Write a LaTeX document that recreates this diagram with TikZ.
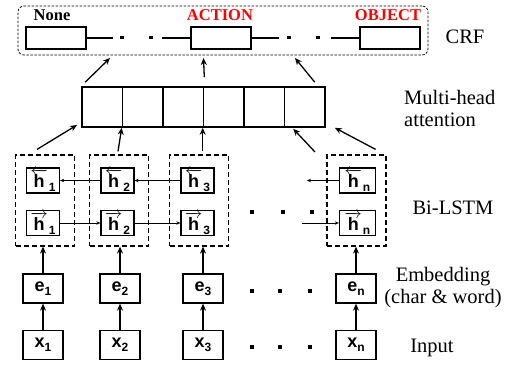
\documentclass[tikz,border=0pt]{standalone}
\usepackage{fontspec}
\setmainfont{Liberation Serif}
\setsansfont{Liberation Sans}
\usetikzlibrary{arrows.meta,calc}
\newcommand{\tokx}[2]{#1\raisebox{-4pt}{\fontsize{12}{12}\selectfont #2}}
\newcommand{\hbw}[1]{$\overleftarrow{\mbox{h}}$\kern1pt\raisebox{-4pt}{\fontsize{12}{12}\selectfont #1}}
\newcommand{\hfw}[1]{$\overrightarrow{\mbox{h}}$\kern1pt\raisebox{-4pt}{\fontsize{12}{12}\selectfont #1}}
\begin{document}
\begin{tikzpicture}[x=1pt,y=-1pt,
 box/.style={draw,line width=1.3pt,inner sep=0pt,font=\sffamily\bfseries\fontsize{18}{18}\selectfont},
 tok/.style={box,minimum width=40pt,minimum height=29pt},
 hcell/.style={box,minimum width=33pt,minimum height=25pt},
 lstm/.style={draw,dash pattern=on 5pt off 3pt,line width=1.2pt,minimum width=59pt,minimum height=91pt,inner sep=0pt},
 att/.style={draw,line width=1.6pt,minimum width=40.5pt,minimum height=40pt,inner sep=0pt},
 crfbox/.style={draw,line width=1.3pt,minimum width=60pt,minimum height=22pt,inner sep=0pt},
 tag/.style={font=\rmfamily\bfseries\fontsize{16.5}{16.5}\selectfont,inner sep=0pt},
 lab/.style={font=\rmfamily\fontsize{20.5}{22}\selectfont,align=center,inner sep=0pt},
 arr/.style={-{Stealth[length=7pt,width=6pt]},line width=1.3pt},
 tarr/.style={-{Stealth[length=4pt,width=3.5pt]},line width=0.7pt},
 chain/.style={line width=1.3pt},
 dotsq/.style={fill,minimum size=3.2pt,inner sep=0pt}
]
\useasboundingbox (0,0) rectangle (524,371);
% CRF
\node[draw,dash pattern=on 2.5pt off 1.5pt,rounded corners=6pt,line width=0.7pt,minimum width=410pt,minimum height=49pt,inner sep=0pt] (crf) at (223,30.5) {};
\node[crfbox] (cN) at (56,38) {};
\node[crfbox] (cA) at (221,38) {};
\node[crfbox] (cO) at (390,38) {};
\node[tag] (tN) at (52,15) {None};
\node[tag,text=red] (tA) at (220,15) {ACTION};
\node[tag,text=red] (tO) at (388,15) {OBJECT};
\coordinate (k1) at (113,38); \coordinate (k2) at (162,38);
\coordinate (k3) at (279,38); \coordinate (k4) at (331,38);
\draw[chain] (cN.east) -- (k1);
\draw[chain] (k2) -- (cA.west);
\draw[chain] (cA.east) -- (k3);
\draw[chain] (k4) -- (cO.west);
\node[dotsq] (d1) at (122,37.5) {};
\node[dotsq] (d2) at (151,37.5) {};
\node[dotsq] (d3) at (289,37.5) {};
\node[dotsq] (d4) at (318,37.5) {};
% attention
\foreach \i in {1,...,6} \node[att] (a\i) at ({82+40.5*(\i-0.5)},107) {};
\coordinate (u1) at (110,58);
\coordinate (u2) at (203.5,58);
\coordinate (u3) at (295,58);
\draw[arr] ([shift={(4,-4)}]a1.north west) -- (u1);
\draw[arr] ([shift={(0,-9)}]a3.north east) -- (u2);
\draw[arr] ([shift={(10,-4)}]a6.north) -- (u3);
% LSTM
\node[lstm] (l1) at (45,200.5) {};
\node[lstm] (l2) at (119,200.5) {};
\node[lstm] (l3) at (199,200.5) {};
\node[lstm] (ln) at (356.5,200.5) {};
\node[hcell] (hb1) at (43,180.5) {\hbw{1}};
\node[hcell] (hb2) at (117.5,180.5) {\hbw{2}};
\node[hcell] (hb3) at (197.5,180.5) {\hbw{3}};
\node[hcell,minimum width=36pt] (hbn) at (357.5,180.5) {\hbw{n}};
\node[hcell] (hf1) at (43,223) {\hfw{1}};
\node[hcell] (hf2) at (117.5,223) {\hfw{2}};
\node[hcell] (hf3) at (197.5,223) {\hfw{3}};
\node[hcell,minimum width=36pt] (hfn) at (357.5,223) {\hfw{n}};
\draw[tarr] (hb3.west) -- (hb2.east);
\draw[tarr] (hb2.west) -- (hb1.east);
\coordinate (f1) at (307,180.5);
\draw[tarr] (hbn.west) -- (f1);
\draw[tarr] (hf1.east) -- (hf2.west);
\draw[tarr] (hf2.east) -- (hf3.west);
\coordinate (f2) at (302,223);
\draw[tarr] (f2) -- (hfn.west);
\node[dotsq] (m1) at (252,212) {};
\node[dotsq] (m2) at (283,212) {};
\node[dotsq] (m3) at (312,212) {};
% arrows into attention
\coordinate (v1) at (77,125);
\draw[arr] ([shift={(-8,-5)}]l1.north) -- (v1);
\draw[arr] ([shift={(-1,-3)}]l2.north) -- (a2.south west);
\draw[arr] ([shift={(0,-3)}]a4.south west |- l3.north) -- (a4.south west);
\coordinate (w4) at (315,152);
\draw[arr] (w4) -- ([shift={(9.5,1)}]a6.south west);
\draw[arr] ([shift={(-11,-5)}]ln.north east) -- ([shift={(9,0)}]a6.south east);
% embeddings and inputs
\node[tok] (e1) at (43,288.5) {\tokx{e}{1}};
\node[tok] (e2) at (120,288.5) {\tokx{e}{2}};
\node[tok] (e3) at (203,288.5) {\tokx{e}{3}};
\node[tok] (en) at (356,288.5) {\tokx{e}{n}};
\node[tok] (x1) at (43,345) {\tokx{x}{1}};
\node[tok] (x2) at (120,345) {\tokx{x}{2}};
\node[tok] (x3) at (203,345) {\tokx{x}{3}};
\node[tok] (xn) at (356,345) {\tokx{x}{n}};
\foreach \c/\l in {1/1,2/2,3/3,n/n} {
  \draw[arr] (x\c.north) -- (e\c.south);
  \draw[arr] (e\c.north) -- (e\c.north |- l\l.south);
}
\node[dotsq] (p1) at (252,291) {};
\node[dotsq] (p2) at (280,291) {};
\node[dotsq] (p3) at (310,291) {};
\node[dotsq] (q1) at (252,347) {};
\node[dotsq] (q2) at (280,347) {};
\node[dotsq] (q3) at (310,347) {};
% labels
\node[lab] (Lcrf) at (465,37) {CRF};
\node[lab,anchor=west,align=left] (Latt) at (404,108) {Multi-head\\attention};
\node[lab] (Lbi) at (453,208) {Bi-LSTM};
\node[lab] (Lemb) at (443,288) {Embedding\\(char \& word)};
\node[lab] (Lin) at (432,348) {Input};
\end{tikzpicture}
\end{document}
